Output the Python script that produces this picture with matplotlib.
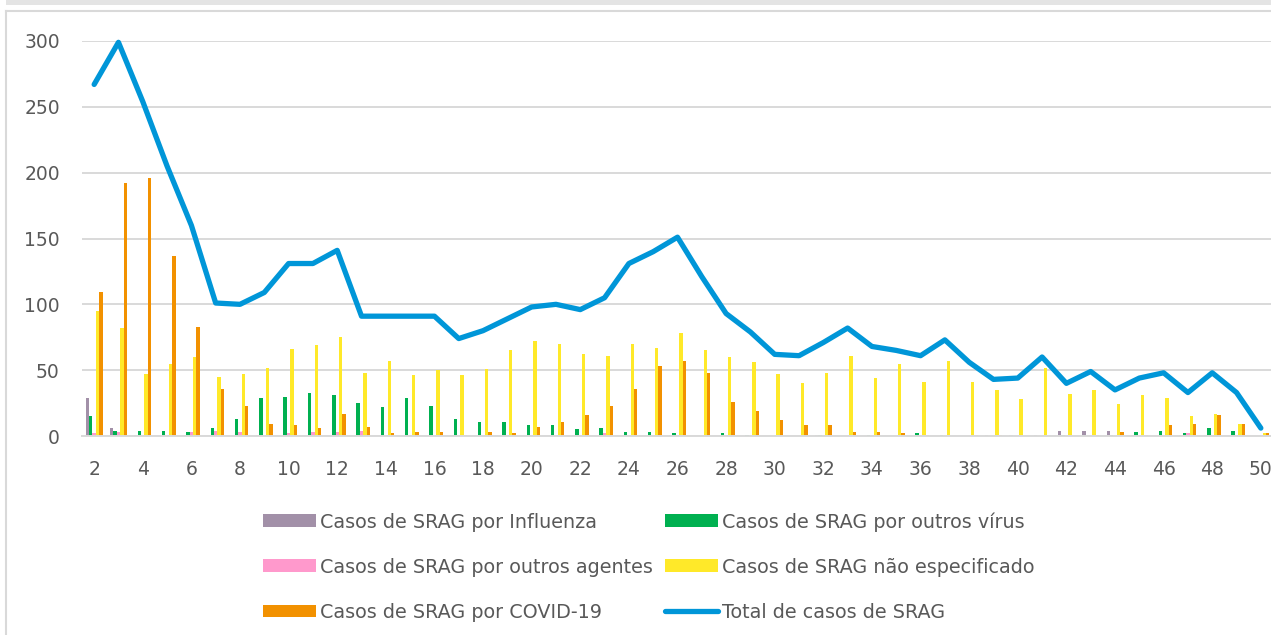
import matplotlib.pyplot as plt
import numpy as np
from matplotlib.lines import Line2D
from matplotlib.patches import Rectangle

# Epidemiological weeks and weekly SRAG cases
weeks = np.arange(2, 51)
influenza = [29, 6, 1, 0, 1, 0, 0, 1, 0, 0, 0, 0, 0, 0, 0, 1, 0, 0, 0, 0, 1, 0, 0, 0, 1,
             0, 0, 0, 0, 0, 1, 0, 0, 0, 0, 0, 0, 1, 1, 1, 4, 4, 4, 1, 0, 1, 1, 0, 0]
outros_virus = [15, 4, 4, 4, 3, 6, 13, 29, 30, 33, 31, 25, 22, 29, 23, 13, 11, 11, 8, 8, 5, 6, 3, 3, 2,
                0, 2, 1, 0, 0, 1, 0, 1, 0, 2, 1, 0, 0, 0, 0, 1, 0, 1, 3, 4, 2, 6, 4, 0]
outros_agentes = [2, 3, 0, 0, 3, 4, 3, 1, 2, 3, 3, 4, 0, 0, 0, 0, 0, 0, 0, 0, 0, 2, 0, 0, 0,
                  0, 0, 0, 0, 0, 0, 0, 0, 0, 0, 0, 0, 0, 0, 0, 0, 0, 0, 0, 0, 2, 0, 0, 0]
nao_especificado = [95, 82, 47, 55, 60, 45, 47, 52, 66, 69, 75, 48, 57, 46, 50, 46, 51, 65, 72, 70, 62, 61, 70, 67, 78,
                    65, 60, 56, 47, 40, 48, 61, 44, 55, 41, 57, 41, 35, 28, 52, 32, 35, 24, 31, 29, 15, 17, 9, 2]
covid = [109, 192, 196, 137, 83, 36, 23, 9, 8, 6, 17, 7, 2, 3, 3, 1, 3, 2, 7, 11, 16, 23, 36, 53, 57,
         48, 26, 19, 12, 8, 8, 3, 3, 2, 1, 0, 1, 1, 0, 0, 0, 1, 3, 1, 8, 9, 16, 9, 2]
total = [267, 299, 254, 205, 160, 101, 100, 109, 131, 131, 141, 91, 91, 91, 91, 74, 80, 89, 98, 100, 96, 105, 131, 140, 151,
         121, 93, 79, 62, 61, 71, 82, 68, 65, 61, 73, 56, 43, 44, 60, 40, 49, 35, 44, 48, 33, 48, 33, 6]

labels = ['Casos de SRAG por Influenza', 'Casos de SRAG por outros vírus',
          'Casos de SRAG por outros agentes', 'Casos de SRAG não especificado',
          'Casos de SRAG por COVID-19']
colors = ['#a290a8', '#00b050', '#ff99cc', '#ffe929', '#f29100']
line_color = '#0096d8'
txt = '#595959'
grid = '#d9d9d9'

plt.rcParams['font.family'] = ['DejaVu Sans']

W, H = 1271, 635
fig = plt.figure(figsize=(W / 100, H / 100), dpi=100)
ax = fig.add_axes([82 / W, 1 - 436 / H, 1191 / W, 395 / H])

w = 0.14
series = [influenza, outros_virus, outros_agentes, nao_especificado, covid]
bars = []
for i, (vals, c) in enumerate(zip(series, colors)):
    b = ax.bar(weeks + (i - 2) * w, vals, width=w, color=c, zorder=2, linewidth=0)
    bars.append(b)

ln, = ax.plot(weeks, total, color=line_color, lw=3.8, zorder=3,
              solid_joinstyle='round', solid_capstyle='round', clip_on=False)

ax.set_xlim(1.5, 50.5)
ax.set_ylim(0, 300)
ax.set_yticks(range(0, 301, 50))
ax.set_xticks(range(2, 51, 2))
ax.yaxis.grid(True, color=grid, lw=1.4, zorder=0)
ax.set_axisbelow(True)
for s in ['top', 'right', 'left']:
    ax.spines[s].set_visible(False)
ax.spines['bottom'].set_color(grid)
ax.spines['bottom'].set_linewidth(1.4)
ax.tick_params(length=0, labelsize=13.5, labelcolor=txt)
ax.tick_params(axis='y', pad=16)
ax.tick_params(axis='x', pad=17)

# legend: matplotlib fills columns first
handle_line = Line2D([], [], color=line_color, lw=3.8, solid_capstyle='round')
handles = [bars[0], bars[2], bars[4], bars[1], bars[3], handle_line]
leg_labels = [labels[0], labels[2], labels[4], labels[1], labels[3], 'Total de casos de SRAG']
leg = fig.legend(handles, leg_labels, ncol=2, loc='upper left',
                 bbox_to_anchor=(263 / W, 1 - 512 / H), frameon=False,
                 fontsize=13.8, handlelength=2.75, handleheight=0.65,
                 handletextpad=0.25, columnspacing=0.6, labelspacing=1.36, borderpad=0,
                 borderaxespad=0)
for t in leg.get_texts():
    t.set_color(txt)

# chart frame and top strip (cropped screenshot)
fig.add_artist(Rectangle((6 / W, 1 - 4.5 / H), 1, 4.5 / H, transform=fig.transFigure,
                         color='#e4e4e4', lw=0))
fig.add_artist(Line2D([5.5 / W, 5.5 / W], [0, 1 - 11 / H], transform=fig.transFigure,
                      color=grid, lw=1.5))
fig.add_artist(Line2D([5.5 / W, 1], [1 - 11 / H, 1 - 11 / H], transform=fig.transFigure,
                      color=grid, lw=1.5))

fig.savefig('out.png', dpi=100)
